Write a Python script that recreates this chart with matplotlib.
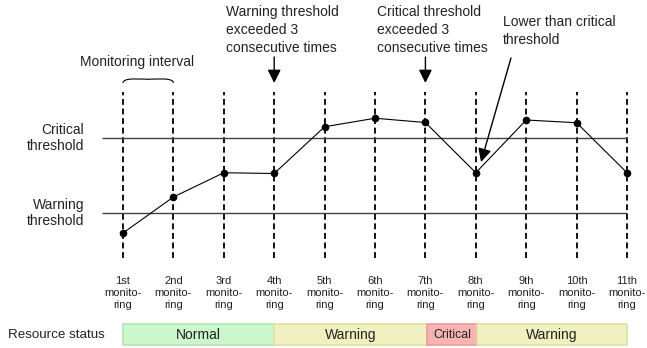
import matplotlib
matplotlib.use("Agg")
import matplotlib.pyplot as plt
from matplotlib.path import Path
from matplotlib.patches import PathPatch

plt.rcParams['font.family'] = ['Liberation Sans', 'DejaVu Sans']

# monitoring points and measured values (arbitrary units)
rounds = [1, 2, 3, 4, 5, 6, 7, 8, 9, 10, 11]
values = [32, 46.4, 56.1, 55.8, 74.5, 77.9, 76.2, 56.1, 77.2, 76.1, 56.1]
tick_labels = ['1st', '2nd', '3rd', '4th', '5th', '6th', '7th', '8th', '9th', '10th', '11th']

warning_threshold = 40
critical_threshold = 70

status_labels = ['Normal', 'Warning', 'Critical', 'Warning']
status_start = [1, 4, 7.03, 8.03]
status_end = [4, 7.03, 8.03, 11]
status_fill = ['#ccf7cc', '#f0f0c0', '#f8b4b4', '#f0f0c0']
status_edge = ['#aee6ae', '#e2e2a6', '#ee9a9a', '#e2e2a6']

W, H = 647, 348
fig = plt.figure(figsize=(W / 100, H / 100), dpi=100)
ax = fig.add_axes([0, 0, 1, 1])

# pixel -> data mapping (x: 50.4 px per round, y: 2.5 px per unit)
X0, DX = 123, 50.4
Y0, DY = 138, 2.5


def dx(px):
    return 1 + (px - X0) / DX


def dy(py):
    return critical_threshold - (py - Y0) / DY


ax.set_xlim(dx(0), dx(W))
ax.set_ylim(dy(H), dy(0))
ax.axis('off')

TXT = '#222222'

# dashed monitoring lines
ax.vlines(rounds, dy(258), dy(92), colors='black', linestyles=(0, (3.3, 2.0)), lw=1.3)

# thresholds
ax.hlines([critical_threshold, warning_threshold], dx(102), rounds[-1], colors='#404040', lw=1.0)

# measured line
ax.plot(rounds, values, color='black', lw=0.8, marker='o', ms=4.5, zorder=3)

# threshold labels
ax.text(dx(84), critical_threshold, 'Critical\nthreshold', ha='right', va='center',
        fontsize=10, linespacing=1.2, color=TXT)
ax.text(dx(84), warning_threshold, 'Warning\nthreshold', ha='right', va='center',
        fontsize=10, linespacing=1.2, color=TXT)

# tick labels
for r, lab in zip(rounds, tick_labels):
    ax.text(r, dy(293), lab + '\nmonito-\nring', ha='center', va='center',
            fontsize=8, linespacing=1.2, color=TXT)

# status bar
ax.text(dx(8), dy(335), 'Resource status', ha='left', va='center', fontsize=9.6, color=TXT)
for lab, s, e, fc, ec in zip(status_labels, status_start, status_end, status_fill, status_edge):
    ax.barh(dy(334.6), e - s, left=s, height=21 / DY, color=fc, edgecolor=ec, lw=1.2)
    ax.text((s + e) / 2, dy(335), lab, ha='center', va='center',
            fontsize=8.8 if lab == 'Critical' else 10, color=TXT)

# monitoring interval brace
bx0, bx1 = rounds[0], rounds[1]
bm = (bx0 + bx1) / 2
yb, yt = dy(83), dy(79.5)
verts = [(bx0, yb), (bx0, dy(81)), (bx0 + 0.05, yt + 0.2), (bx0 + 0.2, yt + 0.2),
         (bm - 0.1, yt + 0.2), (bm, yt + 0.2), (bm, yt),
         (bm, yt + 0.2), (bm + 0.1, yt + 0.2), (bx1 - 0.2, yt + 0.2),
         (bx1 - 0.05, yt + 0.2), (bx1, dy(81)), (bx1, yb)]
codes = [Path.MOVETO, Path.CURVE4, Path.CURVE4, Path.CURVE4,
         Path.CURVE4, Path.CURVE4, Path.CURVE4,
         Path.CURVE4, Path.CURVE4, Path.CURVE4,
         Path.CURVE4, Path.CURVE4, Path.CURVE4]
ax.add_patch(PathPatch(Path(verts, codes), fill=False, lw=0.8, color='black'))
ax.text(dx(137), dy(62), 'Monitoring interval', ha='center', va='center', fontsize=10, color=TXT)

# annotations with arrows
arrow = dict(arrowstyle='-|>,head_length=0.8,head_width=0.4', color='black', lw=1.0,
             shrinkA=0, shrinkB=0)
ax.annotate('', xy=(4, dy(83)), xytext=(4, dy(57)), arrowprops=arrow)
ax.annotate('', xy=(7, dy(83)), xytext=(7, dy(57)), arrowprops=arrow)
ax.annotate('', xy=(dx(481), dy(162)), xytext=(dx(511), dy(58)), arrowprops=arrow)

ax.text(dx(226), dy(30), 'Warning threshold\nexceeded 3\nconsecutive times', ha='left', va='center',
        fontsize=10, linespacing=1.35, color=TXT)
ax.text(dx(377), dy(30), 'Critical threshold\nexceeded 3\nconsecutive times', ha='left', va='center',
        fontsize=10, linespacing=1.35, color=TXT)
ax.text(dx(503), dy(31), 'Lower than critical\nthreshold', ha='left', va='center',
        fontsize=10, linespacing=1.35, color=TXT)

fig.savefig('out.png', dpi=100)
